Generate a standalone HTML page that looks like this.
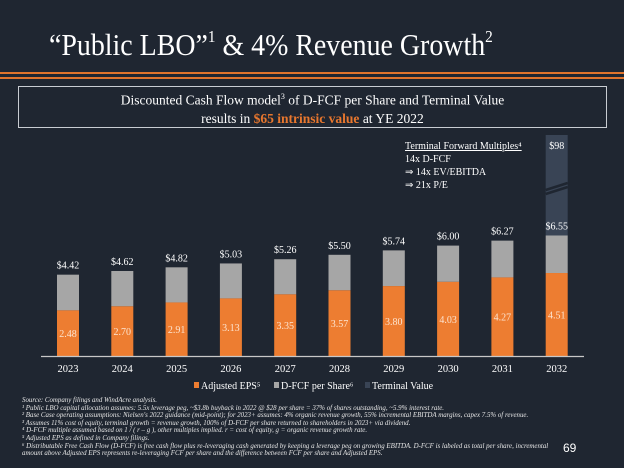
<!DOCTYPE html>
<html><head><meta charset="utf-8"><style>
body{margin:0;width:624px;height:468px;background:#1f2631;overflow:hidden;font-family:"Liberation Serif",serif;color:#fff;position:relative}
#title{position:absolute;left:49px;top:27px;font-size:31px;white-space:nowrap;transform:scaleX(0.9);transform-origin:0 0}
#title sup{font-size:17px;vertical-align:13px}
.ol{position:absolute;left:0;width:624px;height:2px;background:#e0742c}
#box{position:absolute;left:18px;top:86px;width:587px;height:39px;border:1.5px solid #c8ccd2;text-align:center;font-size:13.5px;line-height:18px;padding-top:1px}
#box b{color:#e8772e}
#foot{position:absolute;left:22px;top:397px;font-size:6.9px;font-style:italic;line-height:7.6px;color:#e6e6e6;white-space:nowrap;transform:scaleX(1.0);transform-origin:0 0}
#pg{position:absolute;left:563px;top:441px;font-size:12px;font-family:"Liberation Sans",sans-serif}
</style></head><body>
<div id="title">“Public LBO”<sup>1</sup> &amp; 4% Revenue Growth<sup>2</sup></div>
<div class="ol" style="top:72px"></div>
<div class="ol" style="top:77px"></div>
<div id="box">Discounted Cash Flow model<sup style="font-size:8px">3</sup> of D-FCF per Share and Terminal Value<br>results in <b>$65 intrinsic value</b> at YE 2022</div>
<svg id="chart" width="624" height="468" style="position:absolute;left:0;top:0"></svg>
<div id="foot">Source: Company filings and WindAcre analysis.<br>¹ Public LBO capital allocation assumes: 5.5x leverage peg, ~$3.8b buyback in 2022 @ $28 per share = 37% of shares outstanding, ~5.9% interest rate.<br>² Base Case operating assumptions: Nielsen's 2022 guidance (mid-point); for 2023+ assumes: 4% organic revenue growth, 55% incremental EBITDA margins, capex 7.5% of revenue.<br>³ Assumes 11% cost of equity, terminal growth = revenue growth, 100% of D-FCF per share returned to shareholders in 2023+ via dividend.<br>⁴ D-FCF multiple assumed based on 1 / ( r – g ), other multiples implied. r = cost of equity, g = organic revenue growth rate.<br>⁵ Adjusted EPS as defined in Company filings.<br>⁶ Distributable Free Cash Flow (D-FCF) is free cash flow plus re-leveraging cash generated by keeping a leverage peg on growing EBITDA. D-FCF is labeled as total per share, incremental<br>amount above Adjusted EPS represents re-leveraging FCF per share and the difference between FCF per share and Adjusted EPS.</div>
<div id="pg">69</div>
<script>
const years=['2023','2024','2025','2026','2027','2028','2029','2030','2031','2032'];
const eps=[2.48,2.70,2.91,3.13,3.35,3.57,3.80,4.03,4.27,4.51];
const dfcf=[4.42,4.62,4.82,5.03,5.26,5.50,5.74,6.00,6.27,6.55];
const terminalLabel='$98';
const NS='http://www.w3.org/2000/svg';
const svg=document.getElementById('chart');
const base=356, k=18.4;
function y(v){return base-v*k;}
function x(i){return 57+i*54.3;}
const bw=22;
function mk(t,a,p){const e=document.createElementNS(NS,t);for(const n in a)e.setAttribute(n,a[n]);(p||svg).appendChild(e);return e;}
const tb=mk('rect',{x:x(9),y:135,width:bw,height:y(dfcf[9])-135,fill:'#394455'});


mk('path',{d:`M${x(9)} ${190} L${x(9)+bw} ${183} M${x(9)} ${194} L${x(9)+bw} ${187}`,stroke:'#1f2631',"stroke-width":2.5});
const tl=mk('text',{x:x(9)+bw/2,y:149,"text-anchor":'middle',"font-size":10,fill:'#fff',"font-family":'Liberation Serif'});
tl.textContent=terminalLabel;


years.forEach((yr,i)=>{
  const g=mk('rect',{x:x(i),y:y(dfcf[i]),width:bw,height:y(eps[i])-y(dfcf[i]),fill:'#a6a6a6'});
  
  
  const o=mk('rect',{x:x(i),y:y(eps[i]),width:bw,height:base-y(eps[i]),fill:'#ed7d31'});
  
  
  const t=mk('text',{x:x(i)+bw/2,y:y(dfcf[i])-6,"text-anchor":'middle',"font-size":10,fill:'#fff',"font-family":'Liberation Serif'});
  t.textContent='$'+dfcf[i].toFixed(2);
  
  
  const e=mk('text',{x:x(i)+bw/2,y:(y(eps[i])+base)/2+4,"text-anchor":'middle',"font-size":10,fill:'#fde4d0',"font-family":'Liberation Serif'});
  e.textContent=eps[i].toFixed(2);
  
  
  const xl=mk('text',{x:x(i)+bw/2,y:372,"text-anchor":'middle',"font-size":10.5,fill:'#fff',"font-family":'Liberation Serif'});
  xl.textContent=yr;
  
  
});
const ax=mk('line',{x1:41,x2:584,y1:base+0.5,y2:base+0.5,stroke:'#c8c8c8',"stroke-width":1.2});


const ann=['Terminal Forward Multiples⁴','14x D-FCF','⇒ 14x EV/EBITDA','⇒ 21x P/E'];
ann.forEach((s,i)=>{const t=mk('text',{x:405,y:149+i*13,"font-size":10,fill:'#fff',"font-family":'Liberation Serif',"text-decoration":i==0?'underline':'none'});t.textContent=s;

});
const leg=[['Adjusted EPS⁵','#ed7d31',194],['D-FCF per Share⁶','#a6a6a6',274],['Terminal Value','#394455',365]];
leg.forEach(l=>{const r=mk('rect',{x:l[2],y:382,width:5,height:6,fill:l[1]});


const t=mk('text',{x:l[2]+7,y:389,"font-size":10,fill:'#fff',"font-family":'Liberation Serif'});t.textContent=l[0];

});
</script>
</body></html>
